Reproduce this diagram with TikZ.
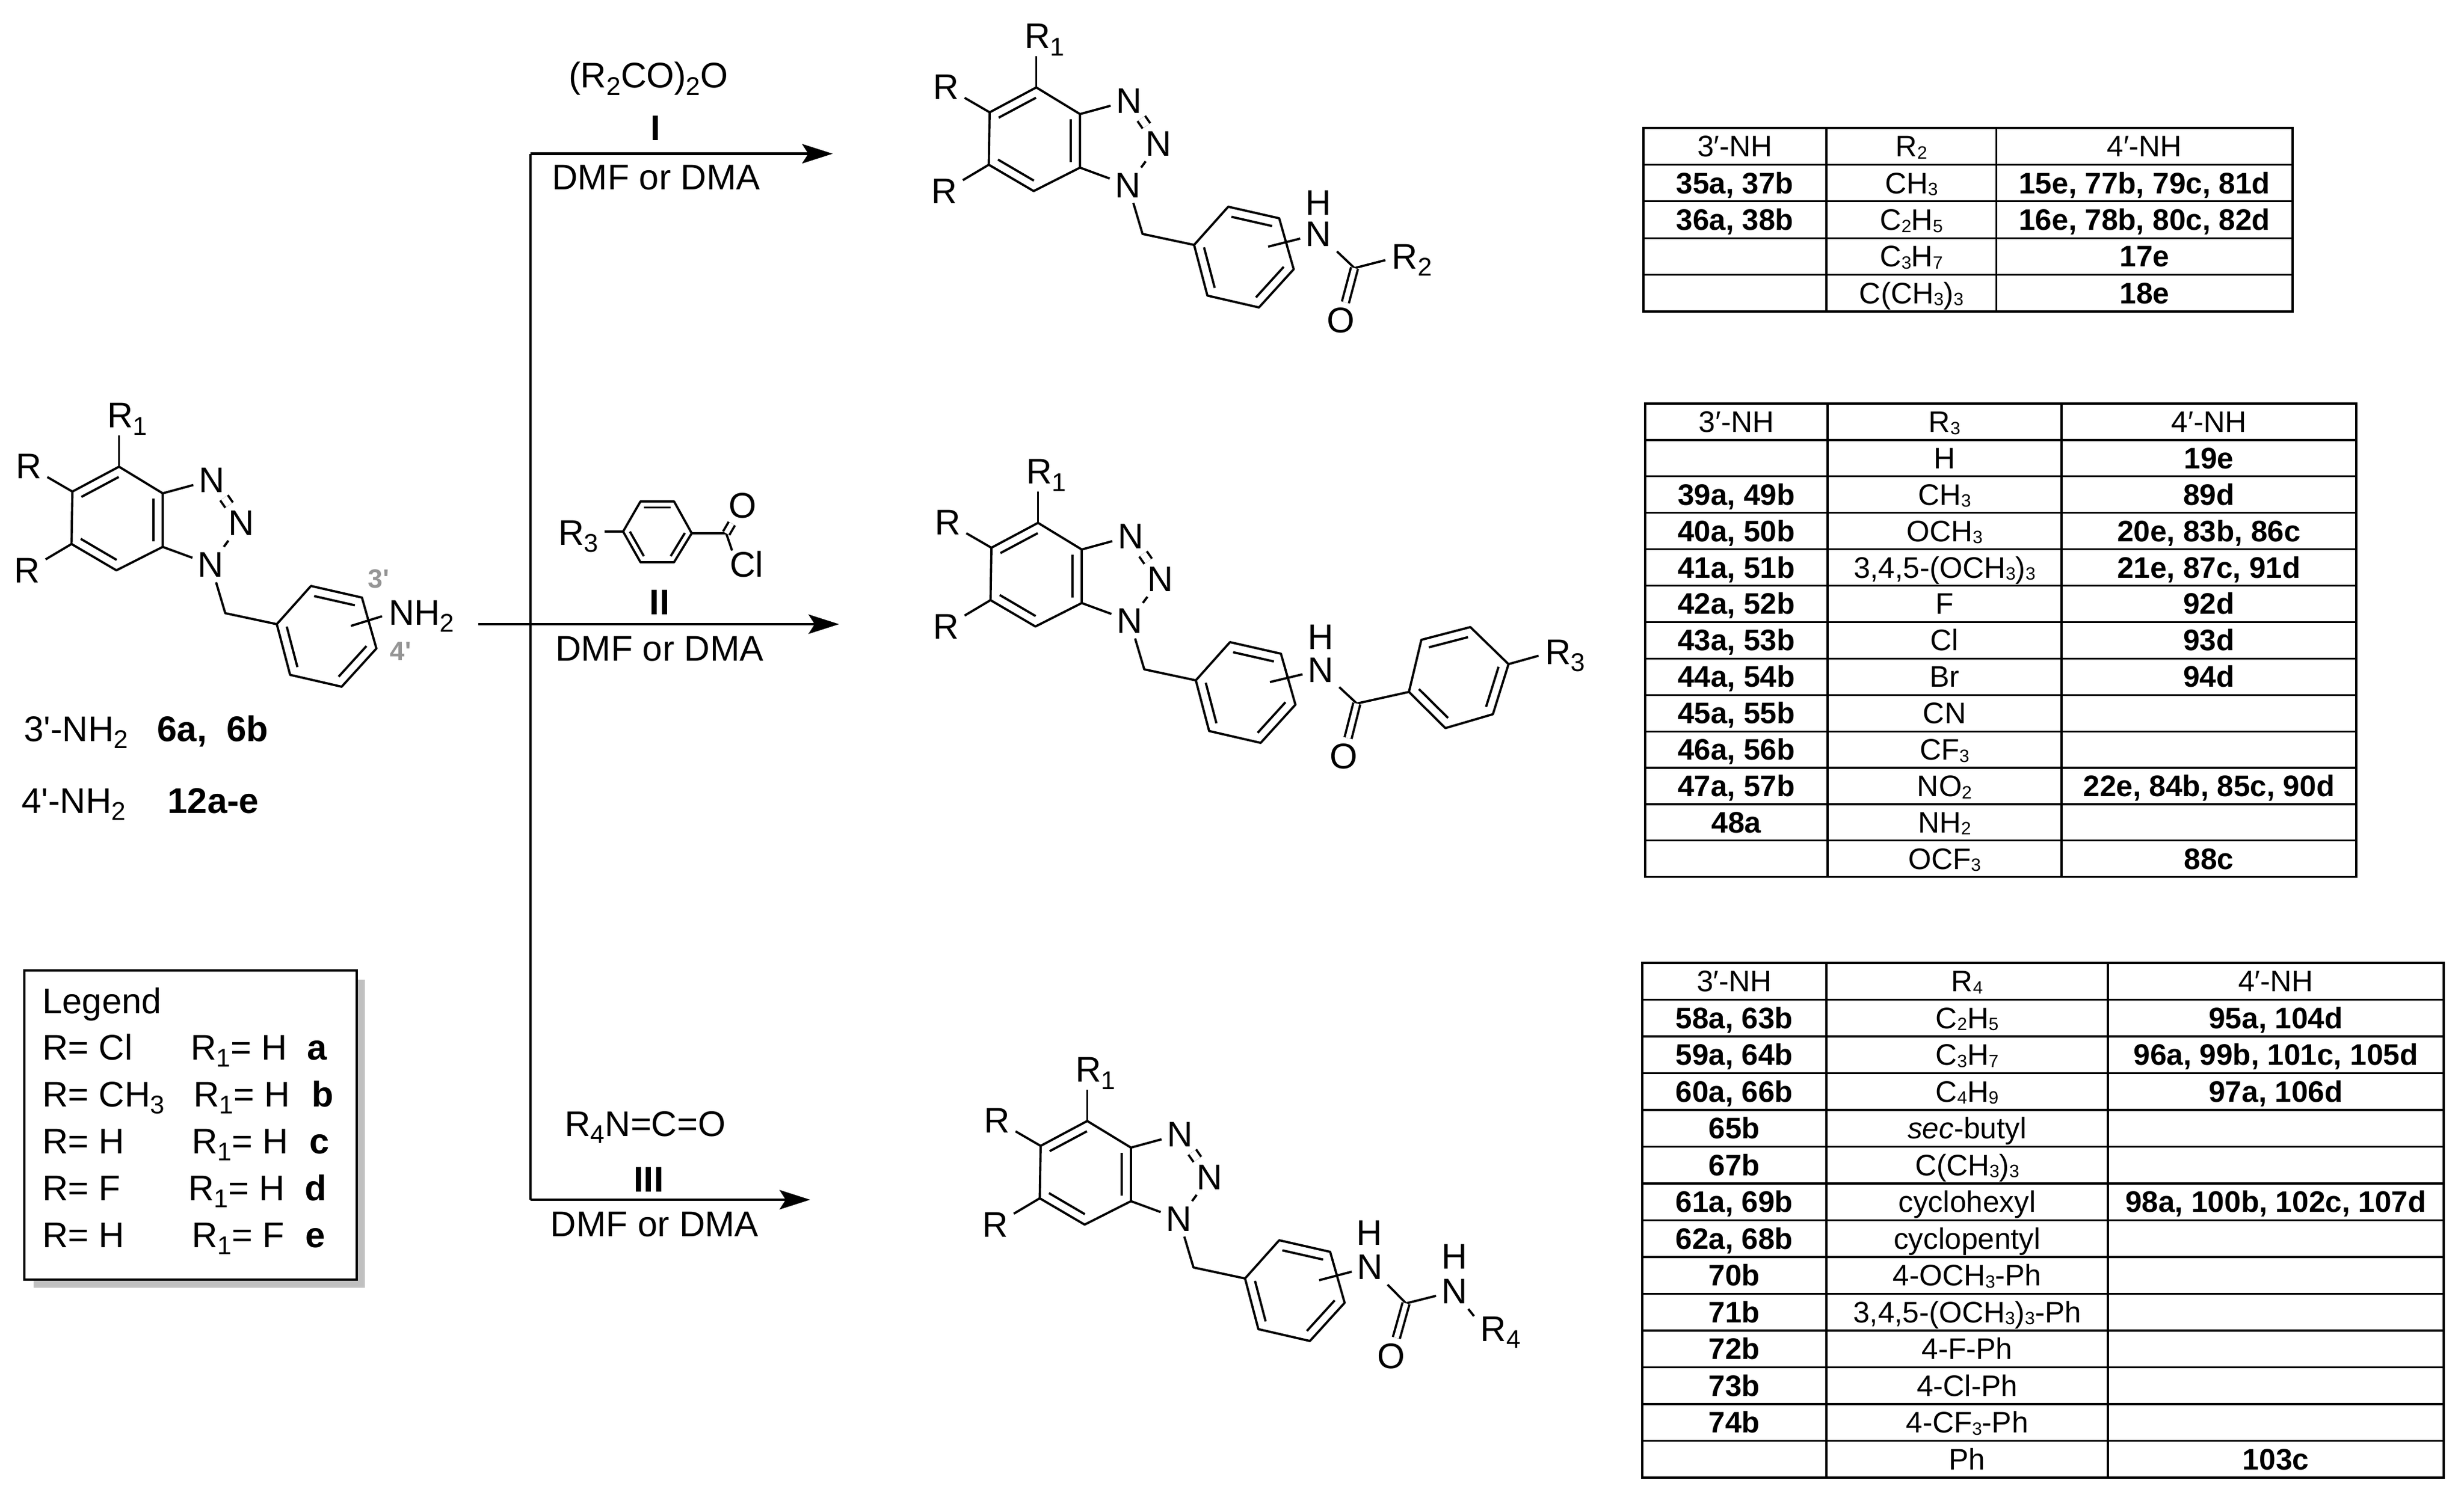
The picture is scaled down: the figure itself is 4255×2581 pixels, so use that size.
\documentclass[tikz,border=0pt]{standalone}
\usepackage{fontspec}
\setmainfont{Liberation Sans}
\newfontfamily\plainsans{Liberation Sans}
\usetikzlibrary{calc,arrows.meta}
\definecolor{shadowgray}{HTML}{C0C0C0}
\definecolor{posgray}{HTML}{959595}
\newcommand{\dn}[1]{\raisebox{-.21em}{\scalebox{.72}{#1}}}
\newcommand{\tdn}[1]{\raisebox{-.07em}{\scalebox{.6}{#1}}}
\newcommand{\chemsize}{\fontsize{17.5}{20}\selectfont}
\newcommand{\cellsize}{\fontsize{14.6}{17}\selectfont}
\tikzset{
  bond/.style={line width=1.1pt, line join=round},
  dblbond/.style={bond, double, double distance=3.4pt},
  codbl/.style={bond, double, double distance=2.4pt},
  atom/.style={font=\chemsize, inner sep=2.5pt},
  rlbl/.style={font=\chemsize, inner xsep=3pt, inner ysep=0pt, anchor=base west, xshift=-1.2pt},
  txt/.style={font=\chemsize, inner sep=0pt, anchor=base west, xshift=-1.2pt},
  btxt/.style={font=\chemsize\bfseries, inner sep=0pt, anchor=base west},
  midtxt/.style={font=\chemsize\bfseries, inner sep=0pt, anchor=base},
  rarrow/.style={line width=1.2pt, -{Stealth[length=15pt, width=9.5pt, inset=3pt]}},
  tline/.style={line width=.9pt},
  tcell/.style={font=\cellsize, inner sep=0pt, anchor=base},
}
\newcommand{\arobond}[3]{\draw[bond] ($(#1)!.2!(#3)$) -- ($(#2)!.2!(#3)$);}
\newcommand{\bzcore}[3]{
\begin{scope}[shift={(#2,#3)}]
\coordinate (#1c4) at (205.5,806);
\coordinate (#1c5) at (125,849);
\coordinate (#1c6) at (123.5,939.5);
\coordinate (#1c7) at (201,985);
\coordinate (#1c7a) at (281,944.5);
\coordinate (#1c3a) at (281,852);
\coordinate (#1cen) at (203,895);
\node[atom] (#1n3) at (365.5,829){N};
\node[atom] (#1n2) at (417,903){N};
\node[atom] (#1n1) at (364,975){N};
\node[rlbl] (#1r1) at (178,738.5){R\dn{1}};
\node[atom] (#1rt) at (50,805.5){R};
\node[atom] (#1rb) at (47,985){R};
\coordinate (#1ch2) at (389,1059);
\coordinate (#1pa) at (478,1078);
\coordinate (#1pb) at (537,1012);
\coordinate (#1pc) at (625,1032);
\coordinate (#1pd) at (650,1120);
\coordinate (#1pe) at (590,1186);
\coordinate (#1pf) at (501,1165.5);
\coordinate (#1pen) at (564,1099);
\coordinate (#1ar) at (606,1081);
\draw[bond] (#1c4) -- (#1c5) -- (#1c6) -- (#1c7) -- (#1c7a) -- (#1c3a) -- cycle;
\arobond{#1c4}{#1c5}{#1cen}
\arobond{#1c6}{#1c7}{#1cen}
\arobond{#1c7a}{#1c3a}{#1cen}
\draw[bond] (#1c4) -- (#1c4 |- #1r1.south);
\draw[bond] (#1c5) -- (#1rt);
\draw[bond] (#1c6) -- (#1rb);
\draw[bond] (#1c3a) -- (#1n3);
\draw[bond] (#1c7a) -- (#1n1);
\draw[dblbond] (#1n3) -- (#1n2);
\draw[bond] (#1n2) -- (#1n1);
\draw[bond] (#1n1) -- (#1ch2) -- (#1pa);
\draw[bond] (#1pa) -- (#1pb) -- (#1pc) -- (#1pd) -- (#1pe) -- (#1pf) -- cycle;
\arobond{#1pb}{#1pc}{#1pen}
\arobond{#1pd}{#1pe}{#1pen}
\arobond{#1pf}{#1pa}{#1pen}
\end{scope}}
\newcommand{\cmpdtable}[7]{
\foreach \ca/\cb/\cc [count=\i from 0] in {{3′-NH}/{#7}/{4′-NH},#6}{
  \draw[tline] (#2,{\tabtop+\i*\tabrow}) rectangle (#3,{\tabtop+(\i+1)*\tabrow});
  \draw[tline] (#3,{\tabtop+\i*\tabrow}) rectangle (#4,{\tabtop+(\i+1)*\tabrow});
  \draw[tline] (#4,{\tabtop+\i*\tabrow}) rectangle (#5,{\tabtop+(\i+1)*\tabrow});
  \ifnum\i=0\relax
    \node[tcell] (#1a\i) at ({(#2+#3)/2},{\tabtop+(\i+.5)*\tabrow+18}){\ca};
    \node[tcell] (#1c\i) at ({(#4+#5)/2},{\tabtop+(\i+.5)*\tabrow+18}){\cc};
  \else
    \node[tcell] (#1a\i) at ({(#2+#3)/2},{\tabtop+(\i+.5)*\tabrow+18}){\bfseries\ca};
    \node[tcell] (#1c\i) at ({(#4+#5)/2},{\tabtop+(\i+.5)*\tabrow+18}){\bfseries\cc};
  \fi
  \node[tcell] (#1b\i) at ({(#3+#4)/2},{\tabtop+(\i+.5)*\tabrow+18}){\cb};
}}
\begin{document}
\begin{tikzpicture}[x=0.01cm,y=-0.01cm]
\useasboundingbox (0,0) rectangle (4255,2581);
\bzcore{sm}{0}{0}
\bzcore{pa}{1584}{-655}
\bzcore{pb}{1587}{97}
\bzcore{pc}{1672}{1130}
\node[rlbl] (smnh) at (664,1079){NH\dn{2}};
\draw[bond] (smar) -- (smnh.west);
\node[font=\plainsans\fontsize{13}{15}\selectfont\bfseries, text=posgray, inner sep=0pt] (pos3) at (654,1000){3'};
\node[font=\plainsans\fontsize{13}{15}\selectfont\bfseries, text=posgray, inner sep=0pt] (pos4) at (692,1125){4'};
\node[txt, font=\chemsize\plainsans] (lab3) at (45,1280){3'-NH\dn{2}};
\node[btxt] (lab3b) at (271,1280){6a,\ \ 6b};
\node[txt, font=\chemsize\plainsans] (lab4) at (41,1404){4'-NH\dn{2}};
\node[btxt] (lab4b) at (289,1404){12a-e};
\fill[shadowgray] (58,1692) rectangle (630,2224);
\draw[line width=1.2pt, fill=white] (42,1676) rectangle (616,2210);
\node[txt] (leg) at (77,1750){Legend};
\foreach \ra/\xb/\rb/\xc/\cl [count=\i from 0] in {Cl/333/H/530/a, CH\dn{3}/338/H/538/b, H/335/H/533.5/c, F/329/H/526/d, H/335/F/527/e}{
  \node[txt] (lega\i) at (77,1830+\i*81){R= \ra};
  \node[txt] (legb\i) at (\xb,1830+\i*81){R\dn{1}= \rb};
  \node[btxt] (legc\i) at (\xc,1830+\i*81){\cl};
}
\coordinate (trtop) at (916,265.5);
\coordinate (trbot) at (916,2072);
\coordinate (tipa) at (1438,265.5);
\coordinate (stb) at (826,1078);
\coordinate (tipb) at (1449,1078);
\coordinate (tipc) at (1399,2072);
\draw[bond] (trtop) -- (trbot);
\draw[rarrow] (trtop) -- (tipa);
\draw[rarrow] (stb) -- (tipb);
\draw[rarrow] (trbot) -- (tipc);
\node[txt] (rga) at (986,151.7){(R\dn{2}CO)\dn{2}O};
\node[midtxt] (rgai) at (1132,242.7){I};
\node[txt] (soa) at (957,327.3){DMF or DMA};
\node[rlbl] (rgr) at (957,941){R\dn{3}};
\coordinate (rg1) at (1076,918);
\coordinate (rg2) at (1106,866);
\coordinate (rg3) at (1164,866);
\coordinate (rg4) at (1194.5,921);
\coordinate (rg5) at (1164,971);
\coordinate (rg6) at (1106,971);
\coordinate (rgc) at (1135,918.5);
\coordinate (rgco) at (1254,921);
\node[atom] (rgo) at (1282,873){O};
\node[rlbl] (rgcl) at (1253,996){Cl};
\draw[bond] (rg1) -- (rg2) -- (rg3) -- (rg4) -- (rg5) -- (rg6) -- cycle;
\arobond{rg2}{rg3}{rgc}
\arobond{rg4}{rg5}{rgc}
\arobond{rg6}{rg1}{rgc}
\draw[bond] (rg1) -- (rg1 -| rgr.east);
\draw[bond] (rg4) -- (rgco);
\draw[bond] (rgco) -- (rgcl.137);
\draw[codbl] (rgco) -- (rgo);
\node[midtxt] (rgbi) at (1139,1061){II};
\node[txt] (sob) at (963,1141.6){DMF or DMA};
\node[txt] (rgd) at (979,1962){R\dn{4}N=C=O};
\node[midtxt] (rgdi) at (1120.5,2058.6){III};
\node[txt] (soc) at (954.5,2135.7){DMF or DMA};
\node[atom] (aan) at (2277,404){N};
\node[atom] (aah) at (2277,350){H};
\coordinate (aac) at (2339,463);
\node[atom] (aao) at (2315,553.5){O};
\node[rlbl] (aar) at (2396.5,464){R\dn{2}};
\draw[bond] (paar) -- (aan);
\draw[bond] (aan) -- (aac);
\draw[bond] (aac) -- (aar.west);
\draw[codbl] (aac) -- (aao);
\node[atom] (ban) at (2281,1157){N};
\node[atom] (bah) at (2281,1100){H};
\coordinate (bac) at (2343,1215);
\node[atom] (bao) at (2320,1306){O};
\coordinate (bb1) at (2433,1195);
\coordinate (bb2) at (2454.5,1105);
\coordinate (bb3) at (2539,1083);
\coordinate (bb4) at (2605,1147);
\coordinate (bb5) at (2578,1233.5);
\coordinate (bb6) at (2496,1257.5);
\coordinate (bbc) at (2519,1170);
\node[rlbl] (bar) at (2661,1147){R\dn{3}};
\draw[bond] (pbar) -- (ban);
\draw[bond] (ban) -- (bac);
\draw[bond] (bac) -- (bb1);
\draw[codbl] (bac) -- (bao);
\draw[bond] (bb1) -- (bb2) -- (bb3) -- (bb4) -- (bb5) -- (bb6) -- cycle;
\arobond{bb2}{bb3}{bbc}
\arobond{bb4}{bb5}{bbc}
\arobond{bb6}{bb1}{bbc}
\draw[bond] (bb4) -- (bar.west);
\node[atom] (can) at (2366,2188){N};
\node[atom] (cah) at (2365,2129){H};
\coordinate (cac) at (2428,2251);
\node[atom] (cbn) at (2511.5,2230){N};
\node[atom] (cbh) at (2511.5,2170){H};
\node[atom] (cao) at (2402.5,2342){O};
\node[rlbl] (car) at (2549.5,2316){R\dn{4}};
\draw[bond] (pcar) -- (can);
\draw[bond] (can) -- (cac);
\draw[bond] (cac) -- (cbn);
\draw[bond] (cbn) -- (car.north west);
\draw[codbl] (cac) -- (cao);
\def\tabtop{221}\def\tabrow{63.4}
\cmpdtable{ta}{2838}{3154}{3447.5}{3959}{%
{35a, 37b}/CH\tdn{3}/{15e, 77b, 79c, 81d},
{36a, 38b}/C\tdn{2}H\tdn{5}/{16e, 78b, 80c, 82d},
{}/C\tdn{3}H\tdn{7}/{17e},
{}/C(CH\tdn{3})\tdn{3}/{18e}}{R\tdn{2}}
\def\tabtop{697}\def\tabrow{62.9}
\cmpdtable{tb}{2841}{3156}{3560}{4069}{%
{}/H/{19e},
{39a, 49b}/CH\tdn{3}/{89d},
{40a, 50b}/OCH\tdn{3}/{20e, 83b, 86c},
{41a, 51b}/{3,4,5-(OCH\tdn{3})\tdn{3}}/{21e, 87c, 91d},
{42a, 52b}/F/{92d},
{43a, 53b}/Cl/{93d},
{44a, 54b}/Br/{94d},
{45a, 55b}/CN/{},
{46a, 56b}/CF\tdn{3}/{},
{47a, 57b}/NO\tdn{2}/{22e, 84b, 85c, 90d},
{48a}/NH\tdn{2}/{},
{}/OCF\tdn{3}/{88c}}{R\tdn{3}}
\def\tabtop{1663}\def\tabrow{63.5}
\cmpdtable{tc}{2836}{3154}{3640}{4220}{%
{58a, 63b}/C\tdn{2}H\tdn{5}/{95a, 104d},
{59a, 64b}/C\tdn{3}H\tdn{7}/{96a, 99b, 101c, 105d},
{60a, 66b}/C\tdn{4}H\tdn{9}/{97a, 106d},
{65b}/\textit{sec}-butyl/{},
{67b}/C(CH\tdn{3})\tdn{3}/{},
{61a, 69b}/cyclohexyl/{98a, 100b, 102c, 107d},
{62a, 68b}/cyclopentyl/{},
{70b}/4-OCH\tdn{3}-Ph/{},
{71b}/{3,4,5-(OCH\tdn{3})\tdn{3}-Ph}/{},
{72b}/4-F-Ph/{},
{73b}/4-Cl-Ph/{},
{74b}/4-CF\tdn{3}-Ph/{},
{}/Ph/{103c}}{R\tdn{4}}
\end{tikzpicture}
\end{document}
